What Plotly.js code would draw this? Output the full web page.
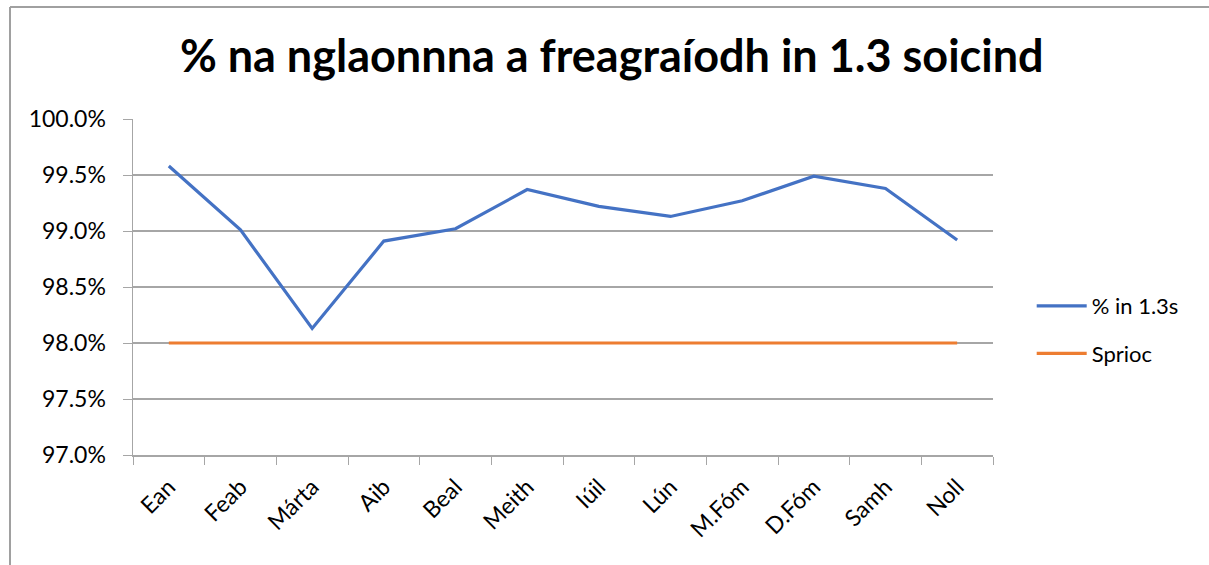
<!DOCTYPE html>
<html>
<head>
<meta charset="utf-8">
<script src="https://cdn.plot.ly/plotly-3.0.1.min.js"></script>
<style>html,body{margin:0;padding:0;background:#fff;}#chart{width:1209px;height:565px;}</style>
</head>
<body>
<div id="chart"></div>
<script>
const months = ["Ean","Feab","Márta","Aib","Beal","Meith","Iúil","Lún","M.Fóm","D.Fóm","Samh","Noll"];
const pctIn13s = [0.9958,0.9901,0.9813,0.9891,0.9902,0.9937,0.9922,0.9913,0.9927,0.9949,0.9938,0.9892];
const sprioc = [0.98,0.98,0.98,0.98,0.98,0.98,0.98,0.98,0.98,0.98,0.98,0.98];
const yTicks = [0.97,0.975,0.98,0.985,0.99,0.995,1.0];
const yTickText = ["97.0%","97.5%","98.0%","98.5%","99.0%","99.5%","100.0%"];
const titleText = "% na nglaonnna a freagraíodh in 1.3 soicind";

const FONT = "Lato, 'Open Sans', sans-serif";
const traces = [
  {x: months, y: pctIn13s, name: "% in 1.3s", type: "scatter", mode: "lines",
   line: {color: "#4472C4", width: 3.2}, legendgroup: "a"},
  {x: months, y: sprioc, name: "Sprioc", type: "scatter", mode: "lines",
   line: {color: "#ED7D31", width: 3.2}, legendgroup: "b"}
];
const layout = {
  width: 1209, height: 565,
  margin: {l: 133, r: 216, t: 119, b: 110},
  paper_bgcolor: "#fff", plot_bgcolor: "#fff",
  font: {family: FONT, color: "#000", size: 22},
  title: {text: "<b>" + titleText + "</b>", font: {family: FONT, size: 45, color: "#000"},
          x: 0.506, xref: "container", xanchor: "center", y: 0.9, yref: "container", yanchor: "middle"},
  xaxis: {type: "category", showgrid: false, showline: true, linecolor: "#A6A6A6", linewidth: 1.5,
          ticks: "outside", ticklen: 8, tickcolor: "#A6A6A6", tickson: "boundaries",
          tickangle: -45, tickfont: {family: FONT, size: 23}, zeroline: false, range: [-0.5, 11.5],
          ticklabelstandoff: 8},
  yaxis: {range: [0.97, 1.0], tickvals: yTicks, ticktext: yTickText, showgrid: true,
          gridcolor: "#A6A6A6", gridwidth: 1.3, showline: true, linecolor: "#A6A6A6", linewidth: 1.5,
          ticks: "outside", ticklen: 9, tickcolor: "#A6A6A6", zeroline: false,
          tickfont: {family: FONT, size: 23}, ticklabelstandoff: 12},
  legend: {x: 1.045, xanchor: "left", y: (455-330)/336, yanchor: "middle", font: {family: FONT, size: 22},
           bgcolor: "rgba(0,0,0,0)", traceorder: "grouped", tracegroupgap: 16, itemwidth: 50},
  showlegend: true,
  shapes: [
    {type: "line", xref: "paper", yref: "paper", x0: -123/860, x1: 1209/860, y0: (455-7)/336, y1: (455-7)/336,
     line: {color: "#A0A0A0", width: 2}},
    {type: "line", xref: "paper", yref: "paper", x0: -123/860, x1: -123/860, y0: (455-7)/336, y1: -1,
     line: {color: "#A0A0A0", width: 2}}
  ]
};
Plotly.newPlot("chart", traces, layout, {displayModeBar: false, staticPlot: true});
</script>
</body>
</html>
